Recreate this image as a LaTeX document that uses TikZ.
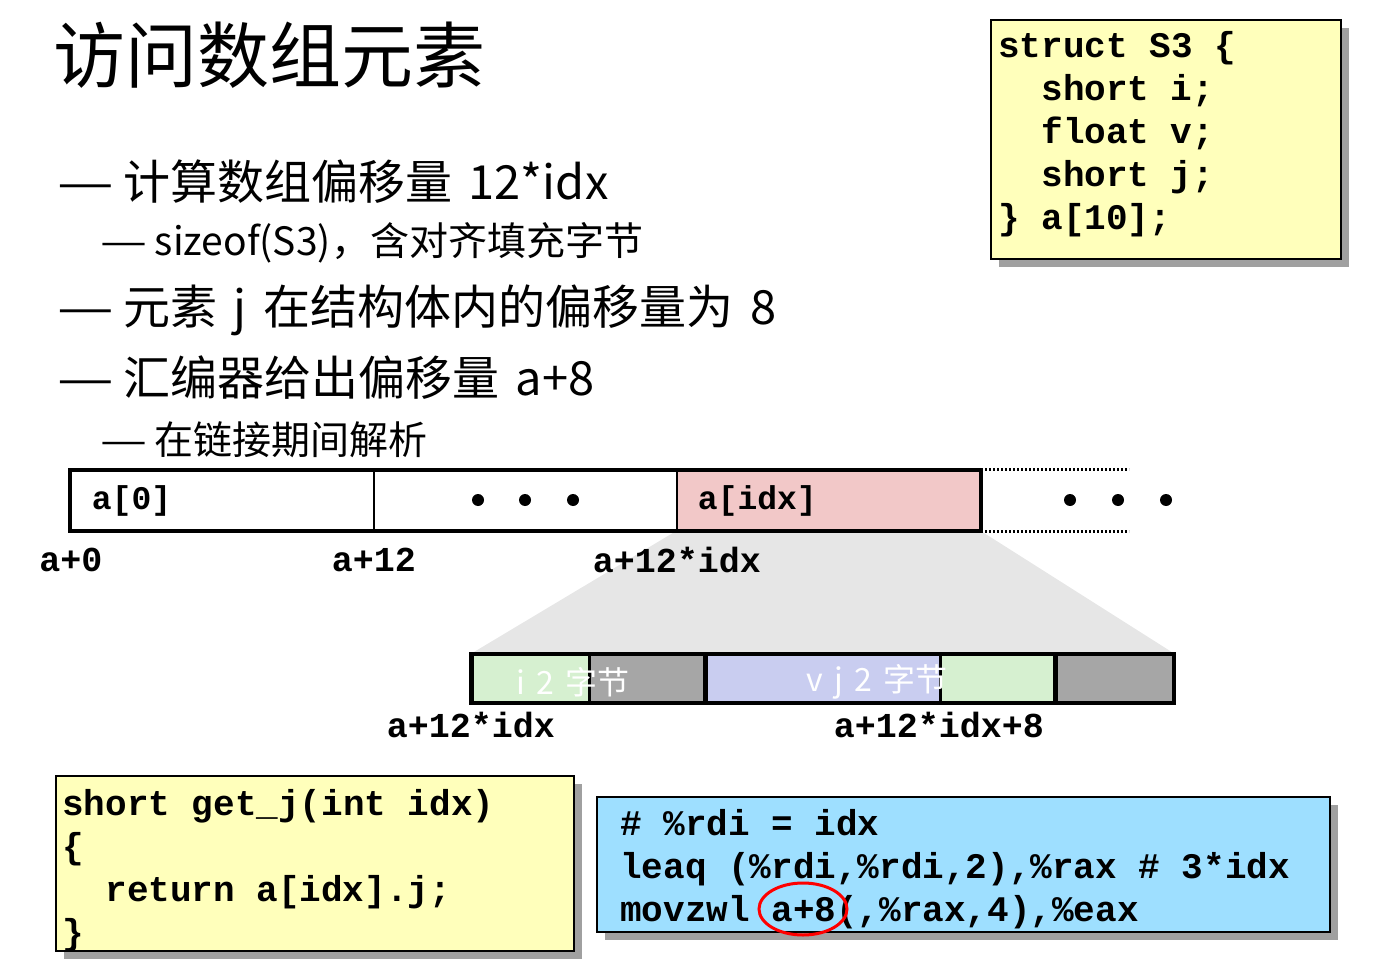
\documentclass[tikz,border=0pt]{standalone}
\usepackage{fontspec}
\setmainfont{Noto Sans CJK SC}[WordSpace=1.6]
\setmonofont{Liberation Mono}
\usetikzlibrary{shapes.geometric,shadows,backgrounds}

\definecolor{memo}{HTML}{FFFFBB}
\definecolor{asmblue}{HTML}{9EDFFF}
\definecolor{cellpink}{HTML}{F2C8C8}
\definecolor{fieldgreen}{HTML}{D6F0D0}
\definecolor{fieldgray}{HTML}{A6A6A6}
\definecolor{fieldblue}{HTML}{C9CDF0}
\definecolor{zoomgray}{HTML}{E6E6E6}
\definecolor{shade}{HTML}{A0A0A0}

% full-width blanks in the code font
\newcommand\fixedblanks{\spaceskip=0.6em\relax\xspaceskip=0.6em\relax}
% long dash in front of a bullet
\newcommand\leaddash{\makebox[1.4em][l]{\scalebox{1.35}[1]{—}}}

\tikzset{
	bullet/.style={anchor=west, inner sep=0pt, font=\fontsize{47}{52}\selectfont},
	subbullet/.style={anchor=west, inner sep=0pt, font=\fontsize{39}{44}\selectfont},
	addr/.style={inner sep=0pt, font=\ttfamily\bfseries\fontsize{35}{40}\selectfont},
	cell/.style={draw, line width=2.5pt, minimum height=59pt, inner sep=0pt},
	field/.style={draw, line width=2.5pt, minimum height=47pt, inner sep=0pt},
	codebox/.style={draw, line width=2pt, anchor=north west, inner sep=0pt,
		drop shadow={shadow xshift=8pt, shadow yshift=-8pt, fill=shade, opacity=1}},
	codetext/.style={anchor=base west, inner sep=0pt, align=left, text width=720pt,
		font=\ttfamily\bfseries\fontsize{36}{43}\selectfont}
}

\begin{document}
\begin{tikzpicture}[x=1pt,y=-1pt]
	\useasboundingbox (0,0) rectangle (1391,965);

	% headline and bullets
	\node[anchor=west, inner sep=0pt, font=\fontsize{72}{80}\selectfont] (title) at (53,55) {访问数组元素};
	\node[bullet] (b1) at (57,182) {\leaddash 计算数组偏移量 12*idx};
	\node[subbullet] (s1) at (100,243) {\leaddash sizeof(S3)，含对齐填充字节};
	\node[bullet] (b2) at (57,310) {\leaddash 元素 j 在结构体内的偏移量为 8};
	\node[bullet] (b3) at (57,378) {\leaddash 汇编器给出偏移量 a+8};
	\node[subbullet] (s2) at (100,440) {\leaddash 在链接期间解析};

	% struct declaration
	\node[codebox, fill=memo, minimum width=350pt, minimum height=239pt] (decl) at (990,19) {};
	\node[codetext] (declcode) at (998,58) {\fixedblanks struct S3 \{\\
		\phantom{xx}short i;\\
		\phantom{xx}float v;\\
		\phantom{xx}short j;\\
		\} a[10];};

	% the array
	\node[cell, minimum width=303pt] (a0) at (222.5,500.5) {};
	\node[cell, minimum width=303pt] (a1) at (525.5,500.5) {};
	\node[cell, minimum width=303pt, fill=cellpink] (aidx) at (828.5,500.5) {};
	\draw[line width=3.5pt] (a0.north west) rectangle (aidx.south east);
	\draw[line width=3pt, dash pattern=on 2pt off 2pt] (aidx.north east) -- ++(148,0);
	\draw[line width=3pt, dash pattern=on 2pt off 2pt] (aidx.south east) -- ++(148,0);
	\node[addr, anchor=west, font=\ttfamily\bfseries\fontsize{33}{38}\selectfont] (l0) at ([xshift=22pt]a0.west) {a[0]};
	\node[addr, anchor=west, font=\ttfamily\bfseries\fontsize{33}{38}\selectfont] (lidx) at ([xshift=22pt]aidx.west) {a[idx]};
	\foreach \x in {478,525,573,1070,1118,1166}{
		\fill (\x,500) circle (6);
		}

	\node[addr] (p0) at (71,560) {a+0};
	\node[addr] (p1) at (374,560) {a+12};
	\node[addr] (pidx) at (677,560) {a+12*idx};

	% one element, blown up
	\foreach \x/\w/\c [count=\i] in {471/117/fieldgreen, 588/117/fieldgray, 705/234/fieldblue, 939/116/fieldgreen, 1055/117/fieldgray}{
		\node[field, fill=\c, minimum width=\w pt, anchor=west] (f\i) at (\x,678.5) {};
		}
	\draw[line width=3.5pt] (f1.north west) rectangle (f5.south east);
	\draw[line width=3.5pt] (f3.north west) -- (f3.south west);
	\draw[line width=3.5pt] (f5.north west) -- (f5.south west);
	\begin{scope}[on background layer]
		\fill[zoomgray] (aidx.south west) -- (aidx.south east) -- (f5.north east) -- (f1.north west) -- cycle;
	\end{scope}
	\node[white, inner sep=0pt, font=\fontsize{32}{36}\selectfont] (ti) at (573,682) {i 2 字节};
	\node[white, inner sep=0pt, font=\fontsize{32}{36}\selectfont] (tv) at (877,682) {v j 2 字节};

	\node[addr] (q0) at (471,725) {a+12*idx};
	\node[addr] (q1) at (939,725) {a+12*idx+8};

	% C source
	\node[codebox, fill=memo, minimum width=518pt, minimum height=175pt] (src) at (55,775) {};
	\node[codetext] (srccode) at (62,815) {\fixedblanks short get\_j(int idx)\\
		\{\\
		\phantom{xx}return a[idx].j;\\
		\}};

	% assembly
	\node[codebox, fill=asmblue, minimum width=733pt, minimum height=135pt] (asm) at (596,796) {};
	\node[codetext] (asmcode) at (620,835) {\fixedblanks \# \%rdi = idx\\
		leaq (\%rdi,\%rdi,2),\%rax \# 3*idx\\
		movzwl a+8(,\%rax,4),\%eax};
	\node[draw=red, line width=3pt, ellipse, minimum width=88pt, minimum height=52pt, inner sep=0pt] (hilite) at (803,909) {};
\end{tikzpicture}
\end{document}
